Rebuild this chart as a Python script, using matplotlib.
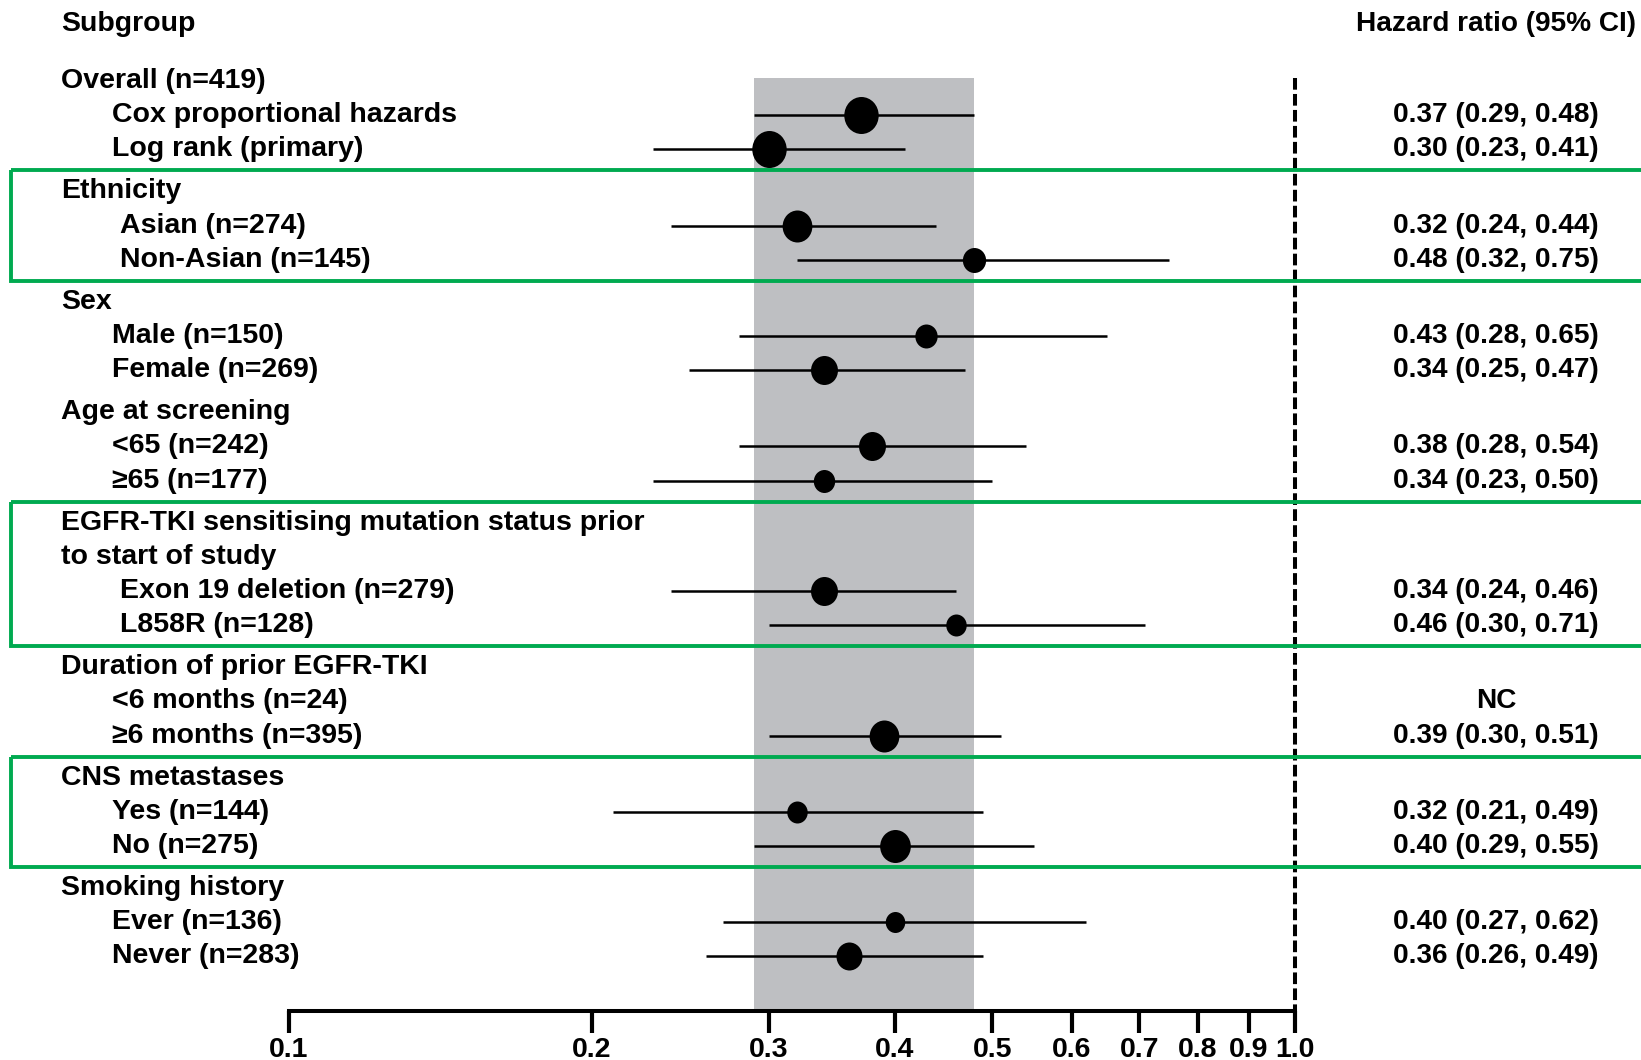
import numpy as np
import matplotlib
matplotlib.use("Agg")
import matplotlib.pyplot as plt
import matplotlib.transforms as mtransforms
from matplotlib.patches import Rectangle
from matplotlib.path import Path
from matplotlib import font_manager

#----------------------------------------------------------------------------
#    Data
#----------------------------------------------------------------------------
labels = ["Overall (n=419)", "Cox proportional hazards", "Log rank (primary)",
          "Ethnicity", "Asian (n=274)", "Non-Asian (n=145)",
          "Sex", "Male (n=150)", "Female (n=269)",
          "Age at screening", "<65 (n=242)", "\u226565 (n=177)",
          "EGFR-TKI sensitising mutation status prior", "to start of study",
          "Exon 19 deletion (n=279)", "L858R (n=128)",
          "Duration of prior EGFR-TKI", "<6 months (n=24)", "\u22656 months (n=395)",
          "CNS metastases", "Yes (n=144)", "No (n=275)",
          "Smoking history", "Ever (n=136)", "Never (n=283)"]
nan = np.nan
hr = [nan, 0.37, 0.30, nan, 0.32, 0.48, nan, 0.43, 0.34, nan, 0.38, 0.34,
      nan, nan, 0.34, 0.46, nan, nan, 0.39, nan, 0.32, 0.40, nan, 0.40, 0.36]
lo = [nan, 0.29, 0.23, nan, 0.24, 0.32, nan, 0.28, 0.25, nan, 0.28, 0.23,
      nan, nan, 0.24, 0.30, nan, nan, 0.30, nan, 0.21, 0.29, nan, 0.27, 0.26]
hi = [nan, 0.48, 0.41, nan, 0.44, 0.75, nan, 0.65, 0.47, nan, 0.54, 0.50,
      nan, nan, 0.46, 0.71, nan, nan, 0.51, nan, 0.49, 0.55, nan, 0.62, 0.49]
hr_text = ["", "0.37 (0.29, 0.48)", "0.30 (0.23, 0.41)",
           "", "0.32 (0.24, 0.44)", "0.48 (0.32, 0.75)",
           "", "0.43 (0.28, 0.65)", "0.34 (0.25, 0.47)",
           "", "0.38 (0.28, 0.54)", "0.34 (0.23, 0.50)",
           "", "", "0.34 (0.24, 0.46)", "0.46 (0.30, 0.71)",
           "", "NC", "0.39 (0.30, 0.51)",
           "", "0.32 (0.21, 0.49)", "0.40 (0.29, 0.55)",
           "", "0.40 (0.27, 0.62)", "0.36 (0.26, 0.49)"]
group = [0, 0, 0, 1, 1, 1, 2, 2, 2, 3, 3, 3, 4, 4, 4, 4, 5, 5, 5, 6, 6, 6, 7, 7, 7]
indent = [0, 1, 1, 0, 2, 2, 0, 1, 1, 0, 1, 1, 0, 0, 2, 2, 0, 1, 1, 0, 1, 1, 0, 1, 1]
boxed = [1, 4, 6]   # groups with green frame
ticks = [0.1, 0.2, 0.3, 0.4, 0.5, 0.6, 0.7, 0.8, 0.9, 1.0]
tick_labels = ["0.1", "0.2", "0.3", "0.4", "0.5", "0.6", "0.7", "0.8", "0.9", "1.0"]
band = (0.29, 0.48)   # overall Cox CI shading

# marker heights in pixels (weight of each estimate)
msize_px = [0, 37, 37, 0, 32, 25, 0, 24, 29, 0, 29, 23, 0, 0, 29, 22,
            0, 0, 32, 0, 22, 33, 0, 21, 28]

#----------------------------------------------------------------------------
#    Fonts
#----------------------------------------------------------------------------
names = {f.name for f in font_manager.fontManager.ttflist}
if "Liberation Sans Narrow" in names:
    narrow = ["Liberation Sans Narrow", "DejaVu Sans"]
    nsize = 24.5
else:
    narrow = ["Liberation Sans", "DejaVu Sans"]
    nsize = 20.5
wide = ["Liberation Sans", "DejaVu Sans"]
plt.rcParams["lines.scale_dashes"] = False

#----------------------------------------------------------------------------
#    Layout
#----------------------------------------------------------------------------
W, H = 1641, 1060
x0_px, x1_px = 289, 1295          # pixel positions of 0.1 and 1.0
dec = x1_px - x0_px
row0_px, row_px = 81.0, 34.2
gap = 0.228

y = np.arange(len(labels)) + gap * np.array(group)

fig = plt.figure(figsize=(W / 100, H / 100), dpi=100)
ax = fig.add_axes([0, 0, 1, 1])
ax.set_xscale("log")
ax.set_xlim(10 ** (-1 - x0_px / dec), 10 ** (-1 + (W - x0_px) / dec))
ax.set_ylim((H - row0_px) / row_px, -row0_px / row_px)
ax.axis("off")

def px2row(p):
    return (p - row0_px) / row_px

axis_y = px2row(1011)
top_y = px2row(77.5)
tr = mtransforms.blended_transform_factory(ax.transAxes, ax.transData)

# grey band and reference line
ax.fill_between(band, top_y, axis_y, color="#BEBFC2", lw=0, zorder=0)
ax.plot([1.0, 1.0], [top_y, axis_y], color="black", lw=2.9,
        dashes=(8.4, 3.1), solid_capstyle="butt", zorder=1)

# x axis
ax.plot([ticks[0], ticks[-1]], [axis_y, axis_y], color="black", lw=2.9,
        solid_capstyle="projecting", zorder=3)
for t, tl in zip(ticks, tick_labels):
    ax.plot([t, t], [axis_y, axis_y + 22 / row_px], color="black", lw=3.0,
            solid_capstyle="butt", zorder=3)
    ax.text(t, px2row(1050), tl, ha="center", va="center", fontsize=nsize,
            fontweight="bold", family=narrow)

# ellipse marker
circ = Path.unit_circle()
ell = Path(circ.vertices * np.array([0.93, 1.0]), circ.codes)

for i in range(len(labels)):
    if np.isnan(hr[i]):
        continue
    ax.plot([lo[i], hi[i]], [y[i], y[i]], color="black", lw=1.8,
            solid_capstyle="butt", zorder=4)
    ax.plot(hr[i], y[i], marker=ell, markersize=msize_px[i] * 0.72,
            color="black", mec="black", mew=0, zorder=5)

# labels
xind = [61 / W, 112 / W, 120 / W]
ax.text(61 / W, px2row(24), "Subgroup", transform=tr,
        ha="left", va="center", fontsize=nsize, fontweight="bold", family=narrow)
ax.text(1496 / W, px2row(24), "Hazard ratio (95% CI)", transform=tr,
        ha="center", va="center", fontsize=20.2, fontweight="bold", family=wide)
for i, lab in enumerate(labels):
    ax.text(xind[indent[i]], y[i], lab, transform=tr, ha="left", va="center",
            fontsize=nsize, fontweight="bold", family=narrow)
    if hr_text[i]:
        ax.text(1496 / W, y[i], hr_text[i], transform=tr, ha="center",
                va="center", fontsize=20.2, fontweight="bold", family=wide)

# green frames around selected groups
for g in boxed:
    idx = [i for i in range(len(labels)) if group[i] == g]
    top = (y[idx[0]] + y[idx[0] - 1]) / 2
    bot = (y[idx[-1]] + y[idx[-1] + 1]) / 2
    ax.add_patch(Rectangle((11 / W, top), 1.2, bot - top, transform=tr,
                           fill=False, ec="#00AA50", lw=2.8, zorder=6,
                           clip_on=False))

fig.savefig("out.png", dpi=100)
